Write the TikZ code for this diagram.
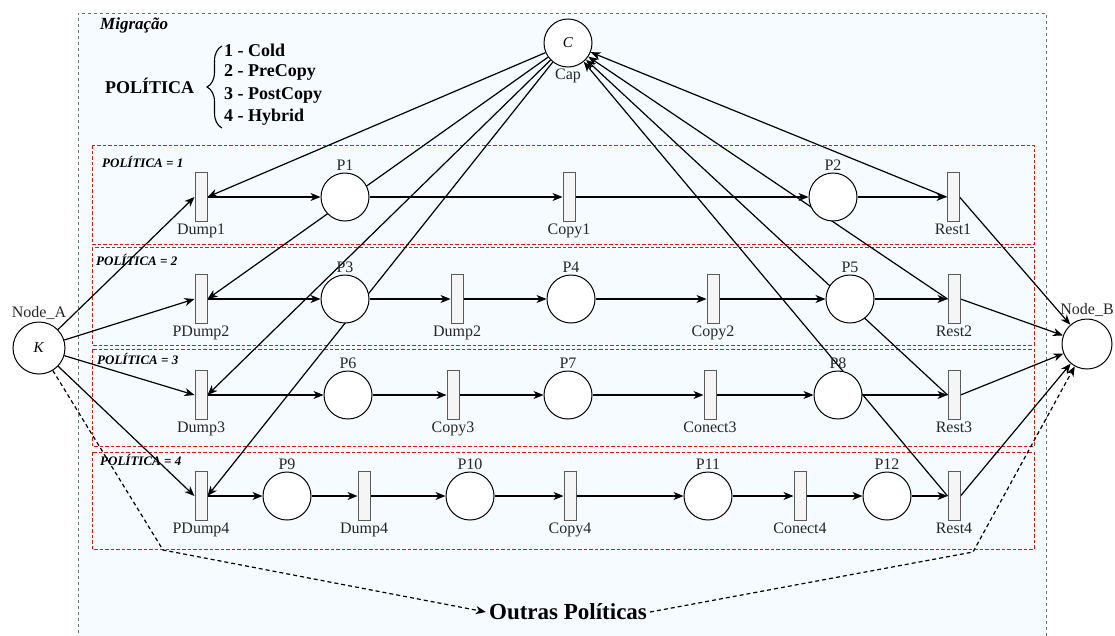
\documentclass[tikz,border=0pt]{standalone}
\usepackage{fontspec}
\setmainfont{Liberation Serif}
\newfontfamily\tnr{Liberation Serif}
\usetikzlibrary{arrows.meta,decorations.pathreplacing}
\pgfdeclarelayer{back}
\pgfdeclarelayer{edges}
\pgfsetlayers{back,edges,main}
\definecolor{bgblue}{RGB}{245,251,255}
\definecolor{redd}{RGB}{225,20,20}
\definecolor{tgray}{RGB}{245,245,245}
\definecolor{tborder}{RGB}{90,90,90}
\definecolor{boxgray}{RGB}{110,110,110}
\begin{document}
\begin{tikzpicture}[x=1pt,y=-1pt,
  lab/.style={font=\tnr\fontsize{16}{18}\selectfont,text=black!85,inner sep=1.5pt},
  place/.style={circle,draw=black,fill=white,line width=1pt,minimum size=48pt,inner sep=0pt,label distance=5.5pt},
  trans/.style={rectangle,draw=tborder,fill=tgray,line width=1pt,minimum width=12pt,minimum height=49pt,inner sep=0pt},
  arr/.style={-{Stealth[length=10pt,width=8pt,inset=3pt]},line width=1.2pt},
  dasharr/.style={arr,dash pattern=on 4pt off 3pt},
  polbox/.style={draw=redd,dash pattern=on 3.5pt off 2pt,line width=1pt},
  pollab/.style={font=\tnr\fontsize{13}{15}\selectfont\bfseries\itshape,anchor=west,inner sep=0pt},
  legend/.style={font=\tnr\fontsize{18}{20}\selectfont\bfseries,anchor=west,inner sep=0pt}
]
\useasboundingbox (0,0) rectangle (1115,635);

% legend
\node[font=\tnr\fontsize{17}{19}\selectfont\bfseries\itshape,anchor=west,inner sep=0pt] (mig) at (100,25) {Migração};
\node[legend] (pol) at (105,86) {POLÍTICA};
\node[legend] (it1) at (224,50) {1 - Cold};
\node[legend] (it2) at (224,72) {2 - PreCopy};
\node[legend] (it3) at (224,95) {3 - PostCopy};
\node[legend] (it4) at (224,117) {4 - Hybrid};
\draw[decorate,decoration={brace,amplitude=15pt},line width=1.1pt] (222,128) -- (222,46);

\node[pollab] (pl1) at (102,162) {POLÍTICA = 1};
\node[pollab] (pl2) at (96,260) {POLÍTICA = 2};
\node[pollab] (pl3) at (97,359) {POLÍTICA = 3};
\node[pollab] (pl4) at (100,460) {POLÍTICA = 4};

% Cap, Node_A, Node_B
\node[place,label distance=4pt,label={[lab,name=tCap]below:Cap}] (Cap) at (568,43) {\tnr\fontsize{15}{17}\selectfont\textit{C}};
\node[place,minimum size=52pt,label distance=9pt,label={[lab,name=tK]above:Node\_A}] (K) at (39,348) {\tnr\fontsize{15}{17}\selectfont\textit{K}};
\node[place,minimum size=50pt,label distance=3pt,label={[lab,name=tNB]above:Node\_B}] (NB) at (1087,344) {};

% row 1
\node[trans,label={[lab,name=tDump1]below:Dump1}] (Dump1) at (201,197) {};
\node[place,label={[lab,name=tP1]above:P1}] (P1) at (345,197) {};
\node[trans,label={[lab,name=tCopy1]below:Copy1}] (Copy1) at (569,197) {};
\node[place,label={[lab,name=tP2]above:P2}] (P2) at (833,197) {};
\node[trans,label={[lab,name=tRest1]below:Rest1}] (Rest1) at (953,197) {};
% row 2
\node[trans,label={[lab,name=tPDump2]below:PDump2}] (PDump2) at (201,299) {};
\node[place,label={[lab,name=tP3]above:P3}] (P3) at (345,299) {};
\node[trans,label={[lab,name=tDump2]below:Dump2}] (Dump2) at (457,299) {};
\node[place,label={[lab,name=tP4]above:P4}] (P4) at (571,299) {};
\node[trans,label={[lab,name=tCopy2]below:Copy2}] (Copy2) at (713,299) {};
\node[place,label={[lab,name=tP5]above:P5}] (P5) at (850,299) {};
\node[trans,label={[lab,name=tRest2]below:Rest2}] (Rest2) at (954,299) {};
% row 3
\node[trans,label={[lab,name=tDump3]below:Dump3}] (Dump3) at (201,395) {};
\node[place,label={[lab,name=tP6]above:P6}] (P6) at (348,395) {};
\node[trans,label={[lab,name=tCopy3]below:Copy3}] (Copy3) at (453,395) {};
\node[place,label={[lab,name=tP7]above:P7}] (P7) at (568,395) {};
\node[trans,label={[lab,name=tConect3]below:Conect3}] (Conect3) at (710,395) {};
\node[place,label={[lab,name=tP8]above:P8}] (P8) at (838,395) {};
\node[trans,label={[lab,name=tRest3]below:Rest3}] (Rest3) at (954,395) {};
% row 4
\node[trans,label={[lab,name=tPDump4]below:PDump4}] (PDump4) at (201,496) {};
\node[place,label={[lab,name=tP9]above:P9}] (P9) at (287,496) {};
\node[trans,label={[lab,name=tDump4]below:Dump4}] (Dump4) at (364,496) {};
\node[place,label={[lab,name=tP10]above:P10}] (P10) at (470,496) {};
\node[trans,label={[lab,name=tCopy4]below:Copy4}] (Copy4) at (570,496) {};
\node[place,label={[lab,name=tP11]above:P11}] (P11) at (708,496) {};
\node[trans,label={[lab,name=tConect4]below:Conect4}] (Conect4) at (800,496) {};
\node[place,label={[lab,name=tP12]above:P12}] (P12) at (887,496) {};
\node[trans,label={[lab,name=tRest4]below:Rest4}] (Rest4) at (954,496) {};

\node[font=\tnr\fontsize{23}{26}\selectfont\bfseries,inner sep=3pt] (out) at (568,612) {Outras Políticas};
\coordinate (cl) at (163,550);
\coordinate (cr) at (973,552);

\begin{pgfonlayer}{back}
  \fill[bgblue] (78,13) rectangle (1046,645);
  \draw[boxgray,dash pattern=on 3pt off 3pt,line width=1pt] (78,645) -- (78,13) -- (1046,13) -- (1046,645);
  \draw[polbox] (92,145) rectangle (1034,244);
  \draw[polbox] (92,247) rectangle (1034,345);
  \draw[polbox] (92,349) rectangle (1034,446);
  \draw[polbox] (92,452) rectangle (1034,549);
\end{pgfonlayer}

\begin{pgfonlayer}{edges}
  % rows
  \draw[arr] (Dump1) -- (P1);
  \draw[arr] (P1) -- (Copy1);
  \draw[arr] (Copy1) -- (P2);
  \draw[arr] (P2) -- (Rest1);
  \draw[arr] (PDump2) -- (P3);
  \draw[arr] (P3) -- (Dump2);
  \draw[arr] (Dump2) -- (P4);
  \draw[arr] (P4) -- (Copy2);
  \draw[arr] (Copy2) -- (P5);
  \draw[arr] (P5) -- (Rest2);
  \draw[arr] (Dump3) -- (P6);
  \draw[arr] (P6) -- (Copy3);
  \draw[arr] (Copy3) -- (P7);
  \draw[arr] (P7) -- (Conect3);
  \draw[arr] (Conect3) -- (P8);
  \draw[arr] (P8) -- (Rest3);
  \draw[arr] (PDump4) -- (P9);
  \draw[arr] (P9) -- (Dump4);
  \draw[arr] (Dump4) -- (P10);
  \draw[arr] (P10) -- (Copy4);
  \draw[arr] (Copy4) -- (P11);
  \draw[arr] (P11) -- (Conect4);
  \draw[arr] (Conect4) -- (P12);
  \draw[arr] (P12) -- (Rest4);
  % Cap
  \draw[arr] (Cap) -- (Dump1.east);
  \draw[arr] (Cap) -- (PDump2.east);
  \draw[arr] (Cap) -- (Dump3.east);
  \draw[arr] (Cap) -- (PDump4.east);
  \draw[arr] (Rest1.west) -- (Cap);
  \draw[arr] (Rest2.west) -- (Cap);
  \draw[arr] (Rest3.west) -- (Cap);
  \draw[arr] (Rest4.west) -- (Cap);
  % Node_A
  \draw[arr] (K) -- (Dump1.west);
  \draw[arr] (K) -- (PDump2.west);
  \draw[arr] (K) -- (Dump3.west);
  \draw[arr] (K) -- (PDump4.west);
  % Node_B
  \draw[arr] (Rest1.east) -- (NB);
  \draw[arr] (Rest2.east) -- (NB);
  \draw[arr] (Rest3.east) -- (NB);
  \draw[arr] (Rest4.east) -- (NB);
  % other policies
  \draw[dasharr] (K) -- (cl) -- (out.west);
  \draw[dasharr] (out.east) -- (cr) -- (NB);
\end{pgfonlayer}
\end{tikzpicture}
\end{document}
